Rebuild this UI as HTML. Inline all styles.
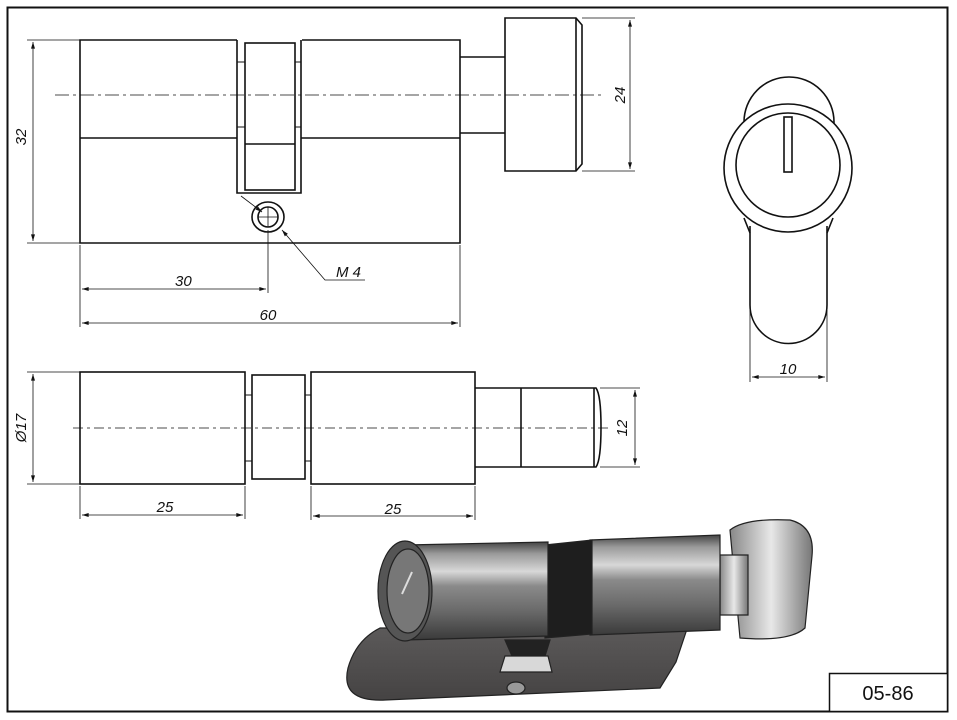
<!DOCTYPE html>
<html><head><meta charset="utf-8"><style>
html,body{margin:0;padding:0;background:#fff;}
svg{display:block;}
text{font-family:"Liberation Sans",sans-serif;fill:#111;}
.d{font-size:15px;font-style:italic;}
</style></head><body>
<svg width="957" height="720" viewBox="0 0 957 720" xmlns="http://www.w3.org/2000/svg">
<defs>
<marker id="a" viewBox="0 0 10 6" refX="10" refY="3" markerWidth="8" markerHeight="4" orient="auto-start-reverse" markerUnits="userSpaceOnUse"><path d="M0,0L10,3L0,6Z" fill="#111"/></marker>
<linearGradient id="cyl" x1="0" y1="0" x2="0" y2="1">
<stop offset="0" stop-color="#444"/><stop offset="0.12" stop-color="#9a9a9a"/><stop offset="0.3" stop-color="#d8d8d8"/><stop offset="0.45" stop-color="#8a8a8a"/><stop offset="0.7" stop-color="#6a6a6a"/><stop offset="1" stop-color="#3a3a3a"/></linearGradient>
<linearGradient id="knob" x1="0" y1="0" x2="1" y2="0">
<stop offset="0" stop-color="#888"/><stop offset="0.5" stop-color="#e8e8e8"/><stop offset="1" stop-color="#777"/></linearGradient>
<linearGradient id="slab" x1="0" y1="0" x2="0" y2="1">
<stop offset="0" stop-color="#5e5c5c"/><stop offset="1" stop-color="#454343"/></linearGradient>
</defs>
<rect x="7.5" y="7.5" width="940" height="704" fill="none" stroke="#111" stroke-width="2"/>
<rect x="829.5" y="673.5" width="118" height="38" fill="#fff" stroke="#111" stroke-width="1.5"/>
<text x="888" y="700" font-size="20" text-anchor="middle">05-86</text>

<g fill="none" stroke="#111" stroke-width="1.6">
<path d="M237,40H80V243H460V40H302"/>
<path d="M80,138H237M301,138H460"/>
<path d="M237,40V193H301V40"/>
<rect x="245" y="43" width="50" height="147"/>
<path d="M245,144H295"/>
<path d="M237,62H245M237,127H245M295,62H301M295,127H301" stroke-width="1"/>
<path d="M460,57H505M460,133H505"/>
<path d="M505,18H576L582,25V164L576,171H505Z"/>
<path d="M576,18V171"/>
<ellipse cx="268" cy="217" rx="16" ry="15"/>
<circle cx="268" cy="217" r="10"/>
</g>
<g stroke="#111" stroke-width="0.8" fill="none">
<path d="M258,217H278M268,207V227"/>
<path d="M55,95H605" stroke-dasharray="14,4,3,4"/>
<path d="M27,40H80M27,243H80M582,18H635M582,171H635"/>
<path d="M33,42V241" marker-start="url(#a)" marker-end="url(#a)"/>
<path d="M630,20V169" marker-start="url(#a)" marker-end="url(#a)"/>
<path d="M268,230V293M80,245V327M460,245V327"/>
<path d="M82,289H266" marker-start="url(#a)" marker-end="url(#a)"/>
<path d="M82,323H458" marker-start="url(#a)" marker-end="url(#a)"/>
<path d="M241,196L262,212" marker-end="url(#a)"/>
<path d="M365,280H325L282,230" marker-end="url(#a)"/>
</g>
<text class="d" x="26" y="137" text-anchor="middle" transform="rotate(-90 26 137)">32</text>
<text class="d" x="625" y="95" text-anchor="middle" transform="rotate(-90 625 95)">24</text>
<text class="d" x="175" y="286">30</text>
<text class="d" x="268" y="320" text-anchor="middle">60</text>
<text class="d" x="336" y="277">M 4</text>

<g fill="none" stroke="#111" stroke-width="1.6">
<rect x="80" y="372" width="165" height="112"/>
<rect x="252" y="375" width="53" height="104"/>
<rect x="311" y="372" width="164" height="112"/>
<path d="M475,388H596Q601,395 601,427Q601,460 596,467H475"/>
<path d="M521,388V467M594,388V467"/>
<path d="M245,395H252M245,461H252M305,395H311M305,461H311" stroke-width="1"/>
</g>
<g stroke="#111" stroke-width="0.8" fill="none">
<path d="M73,428H612" stroke-dasharray="10,4,3,4"/>
<path d="M27,372H80M27,484H80M600,388H640M600,467H640"/>
<path d="M33,374V482" marker-start="url(#a)" marker-end="url(#a)"/>
<path d="M635,390V465" marker-start="url(#a)" marker-end="url(#a)"/>
<path d="M80,486V519M245,486V519M311,486V520M475,486V520"/>
<path d="M82,515H243" marker-start="url(#a)" marker-end="url(#a)"/>
<path d="M313,516H473" marker-start="url(#a)" marker-end="url(#a)"/>
</g>
<text class="d" x="26" y="428" text-anchor="middle" transform="rotate(-90 26 428)">Ø17</text>
<text class="d" x="627" y="428" text-anchor="middle" transform="rotate(-90 627 428)">12</text>
<text class="d" x="165" y="512" text-anchor="middle">25</text>
<text class="d" x="393" y="514" text-anchor="middle">25</text>

<g fill="none" stroke="#111" stroke-width="1.6">
<circle cx="789" cy="122" r="45" fill="#fff"/>
<path d="M750,226V305A38.5,38.5 0 0 0 827,305V226"/>
<path d="M750,233L744,218M827,233L833,218"/>
<circle cx="788" cy="168" r="64" fill="#fff"/>
<circle cx="788" cy="165" r="52"/>
<rect x="784" y="117" width="8" height="55"/>
</g>
<g stroke="#111" stroke-width="0.8" fill="none">
<path d="M750,310V382M827,310V382"/>
<path d="M752,377H825" marker-start="url(#a)" marker-end="url(#a)"/>
</g>
<text class="d" x="788" y="374" text-anchor="middle">10</text>

<g stroke="#222" stroke-width="1.2">
<path d="M400,628L690,620L676,662L660,688L385,700Q340,702 348,668Q356,640 380,628Z" fill="url(#slab)"/>
<path d="M505,640H550L545,656H512Z" fill="#222"/>
<path d="M505,656H548L552,672H500Z" fill="#d8d8d8"/>
<ellipse cx="516" cy="688" rx="9" ry="6" fill="#999"/>
<path d="M730,530Q745,518 790,520Q815,526 812,556L805,628Q790,642 740,638Z" fill="url(#knob)"/>
<path d="M720,555H748V615H720Z" fill="url(#knob)"/>
<path d="M590,540L720,535V630L590,635Z" fill="url(#cyl)"/>
<path d="M545,545L592,540V634L545,638Z" fill="#1e1e1e"/>
<path d="M405,545L548,542V636L405,640Z" fill="url(#cyl)"/>
<ellipse cx="405" cy="591" rx="27" ry="50" fill="#555"/>
<ellipse cx="408" cy="591" rx="21" ry="42" fill="#777"/>
<path d="M402,594L412,572" stroke="#ddd" stroke-width="2"/>
</g>
</svg>
</body></html>
